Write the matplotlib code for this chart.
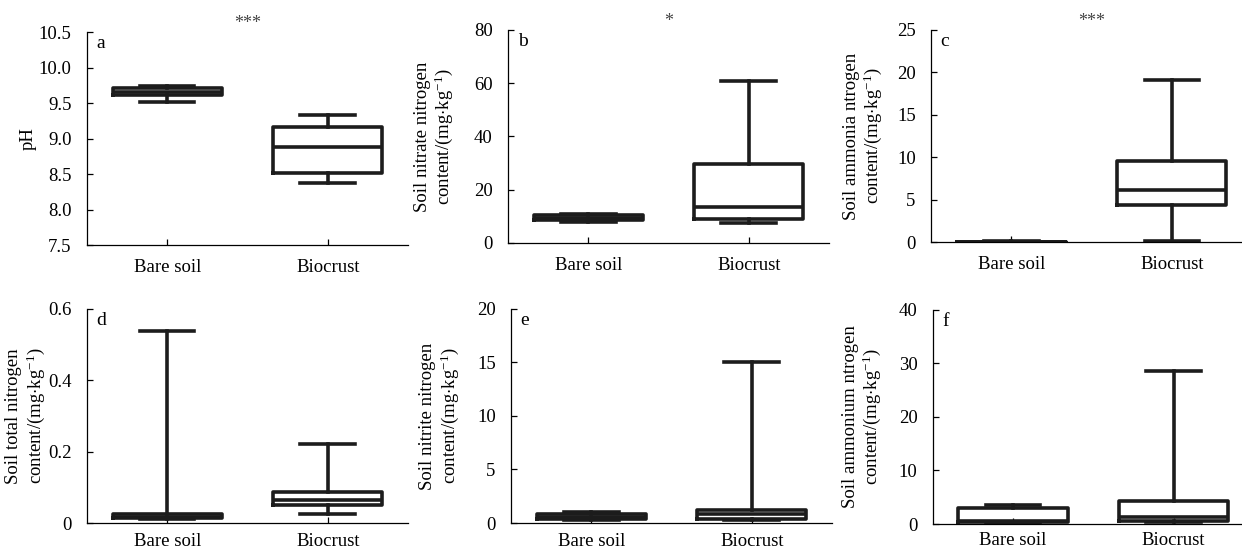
import matplotlib
matplotlib.use("Agg")
import matplotlib.pyplot as plt

plt.rcParams['font.family'] = ['Liberation Serif', 'DejaVu Serif']
plt.rcParams['mathtext.fontset'] = 'custom'
plt.rcParams['mathtext.rm'] = 'Liberation Serif'
plt.rcParams['mathtext.it'] = 'Liberation Serif:italic'

groups = ['Bare soil', 'Biocrust']

# five-number summaries per panel: [whislo, q1, med, q3, whishi]
ph_bare = [9.52, 9.61, 9.66, 9.71, 9.74]
ph_crust = [8.37, 8.51, 8.88, 9.16, 9.33]
nitrate_bare = [8.0, 8.6, 9.5, 10.4, 11.0]
nitrate_crust = [7.5, 9.0, 13.4, 29.8, 60.6]
ammonia_bare = [0.02, 0.03, 0.05, 0.07, 0.1]
ammonia_crust = [0.2, 4.4, 6.1, 9.6, 19.1]
total_bare = [0.012, 0.013, 0.018, 0.024, 0.537]
total_crust = [0.026, 0.050, 0.065, 0.086, 0.222]
nitrite_bare = [0.31, 0.38, 0.6, 0.8, 1.0]
nitrite_crust = [0.3, 0.38, 0.84, 1.25, 15.0]
ammonium_bare = [0.2, 0.3, 0.6, 2.9, 3.6]
ammonium_crust = [0.4, 0.5, 1.3, 4.3, 28.6]

unit = 'content/(mg$\\cdot$kg$^{-1}$)'
panels = [
    ('a', 'pH', ph_bare, ph_crust, (7.5, 10.5), [7.5, 8.0, 8.5, 9.0, 9.5, 10.0, 10.5], ['7.5', '8.0', '8.5', '9.0', '9.5', '10.0', '10.5'], '***'),
    ('b', 'Soil nitrate nitrogen\n' + unit, nitrate_bare, nitrate_crust, (0, 80), [0, 20, 40, 60, 80], ['0', '20', '40', '60', '80'], '*'),
    ('c', 'Soil ammonia ntrogen\n' + unit, ammonia_bare, ammonia_crust, (0, 25), [0, 5, 10, 15, 20, 25], ['0', '5', '10', '15', '20', '25'], '***'),
    ('d', 'Soil total nitrogen\n' + unit, total_bare, total_crust, (0, 0.6), [0, 0.2, 0.4, 0.6], ['0', '0.2', '0.4', '0.6'], ''),
    ('e', 'Soil nitrite nitrogen\n' + unit, nitrite_bare, nitrite_crust, (0, 20), [0, 5, 10, 15, 20], ['0', '5', '10', '15', '20'], ''),
    ('f', 'Soil ammonium ntrogen\n' + unit, ammonium_bare, ammonium_crust, (0, 40), [0, 10, 20, 30, 40], ['0', '10', '20', '30', '40'], ''),
]

# axes rectangles in figure fractions, y-label centre (axes x), x-label pad
rects = [
    (0.070, 0.556, 0.2585, 0.386),
    (0.409, 0.560, 0.2585, 0.386),
    (0.7496, 0.561, 0.2585, 0.385),
    (0.070, 0.0525, 0.2585, 0.388),
    (0.4114, 0.0525, 0.2585, 0.388),
    (0.751, 0.0507, 0.2585, 0.388),
]
label_x = [-0.184, -0.23, -0.209, -0.19, -0.221, -0.22]
x_pads = [10, 10, 10, 7, 7, 6]

fig = plt.figure(figsize=(12.42, 5.52), dpi=100)
line_col = '#1c1c1c'

for rect, lx, xp, (letter, ylab, bare, crust, ylim, yticks, ylabels, sig) in zip(rects, label_x, x_pads, panels):
    ax = fig.add_axes(rect)
    stats = []
    for name, v in zip(groups, [bare, crust]):
        stats.append({'label': name, 'whislo': v[0], 'q1': v[1], 'med': v[2],
                      'q3': v[3], 'whishi': v[4], 'fliers': []})
    lp = dict(color=line_col, linewidth=2.6)
    ax.bxp(stats, positions=[1, 2], widths=0.68, capwidths=0.34, showfliers=False,
           boxprops=lp, medianprops=lp, whiskerprops=lp, capprops=lp)
    ax.set_xlim(0.5, 2.5)
    ax.set_ylim(*ylim)
    ax.set_yticks(yticks)
    ax.set_yticklabels(ylabels)
    ax.set_xticks([1, 2])
    ax.set_xticklabels(groups)
    for s in ['top', 'right']:
        ax.spines[s].set_visible(False)
    for s in ['left', 'bottom']:
        ax.spines[s].set_linewidth(0.9)
    ax.tick_params(axis='both', direction='in', length=4, width=0.9)
    ax.tick_params(axis='x', pad=xp, labelsize=13.5)
    ax.tick_params(axis='y', pad=11, labelsize=13.5)
    ax.set_ylabel(ylab, fontsize=13.5, linespacing=1.1, va='center')
    ax.yaxis.set_label_coords(lx, 0.5)
    ax.text(0.03, 0.985, letter, transform=ax.transAxes, fontsize=14, va='top', ha='left')
    if sig:
        ax.text(0.5, 1.0, sig, transform=ax.transAxes, fontsize=13, color='#444444',
                ha='center', va='bottom')

fig.savefig('out.png', dpi=100)
